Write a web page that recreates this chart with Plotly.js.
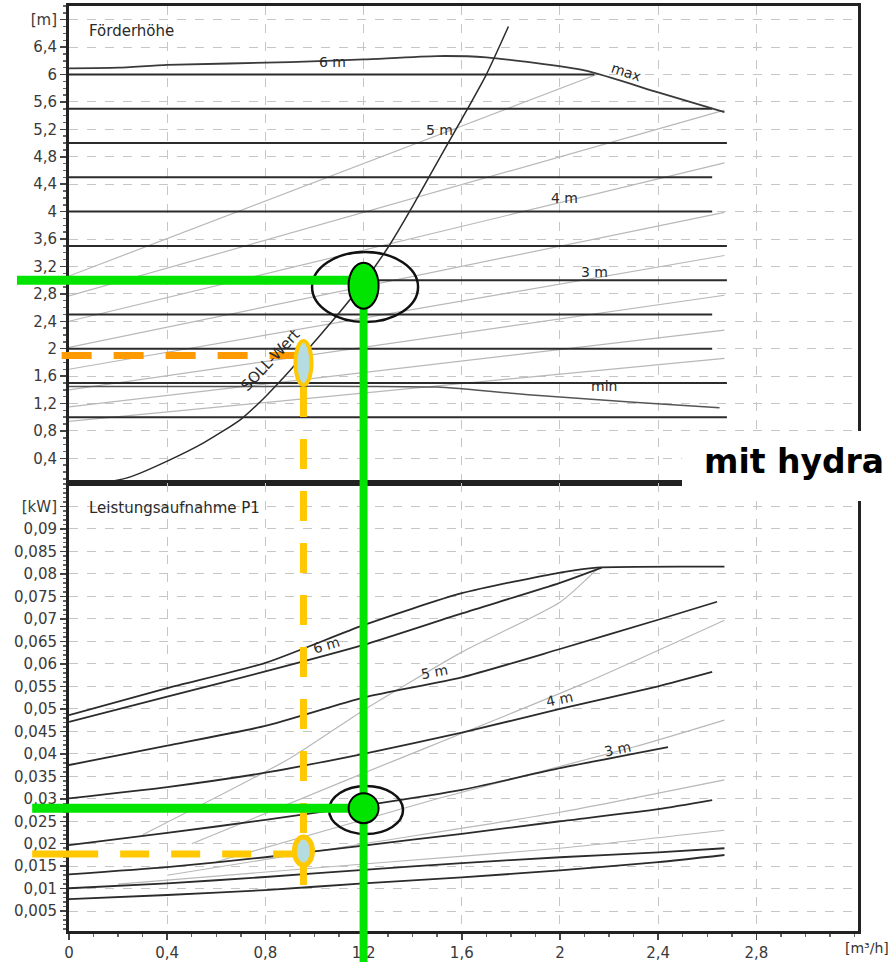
<!DOCTYPE html>
<html><head><meta charset="utf-8">
<script src="https://cdn.plot.ly/plotly-3.0.1.min.js"></script>
<style>html,body{margin:0;padding:0;background:#fff;}</style>
</head><body>
<div id="chart" style="width:896px;height:962px;"></div>
<script>
// ---------------- axis ticks ----------------
const xTickVals = [0, 0.4, 0.8, 1.2, 1.6, 2, 2.4, 2.8];
const xTickText = ["0", "0,4", "0,8", "1,2", "1,6", "2", "2,4", "2,8"];
const hTickVals = [0.4,0.8,1.2,1.6,2,2.4,2.8,3.2,3.6,4,4.4,4.8,5.2,5.6,6,6.4,6.8];
const hTickText = ["0,4","0,8","1,2","1,6","2","2,4","2,8","3,2","3,6","4","4,4","4,8","5,2","5,6","6","6,4","[m]"];
const pTickVals = [0.005,0.01,0.015,0.02,0.025,0.03,0.035,0.04,0.045,0.05,0.055,0.06,0.065,0.07,0.075,0.08,0.085,0.09,0.095];
const pTickText = ["0,005","0,01","0,015","0,02","0,025","0,03","0,035","0,04","0,045","0,05","0,055","0,06","0,065","0,07","0,075","0,08","0,085","0,09","[kW]"];

// ---------------- Förderhöhe (head) ----------------
// constant-pressure lines (level, end flow)
const hLevels   = [6, 5.5, 5, 4.5, 4, 3.5, 3, 2.5, 2, 1.5, 1];
const hLevelEnd = [2.14, 2.62, 2.68, 2.62, 2.62, 2.68, 2.68, 2.62, 2.62, 2.68, 2.68];
// proportional-pressure lines (grey)
const gStartH = [3.06, 2.77, 2.40, 2.02, 1.70, 1.40, 1.15, 0.94];
const gEndQ   = [2.15, 2.67, 2.67, 2.67, 2.67, 2.67, 2.67, 2.67];
const gEndH   = [6.00, 5.48, 4.71, 3.99, 3.36, 2.78, 2.27, 1.86];
// max curve
const maxQ = [0, 0.2, 0.4, 0.9, 1.2, 1.5, 1.7, 2.1, 2.4, 2.67];
const maxH = [6.09, 6.10, 6.14, 6.18, 6.22, 6.27, 6.25, 6.06, 5.74, 5.45];
// min curve
const minQ = [0, 0.4, 0.8, 1.2, 1.5, 1.9, 2.3, 2.65];
const minH = [1.45, 1.45, 1.45, 1.45, 1.44, 1.32, 1.22, 1.14];
// SOLL-Wert system curve
const sollQ = [0.13, 0.25, 0.4, 0.55, 0.7, 0.8, 0.9, 1.0, 1.1, 1.2, 1.3, 1.4, 1.5, 1.6, 1.7, 1.79];
const sollH = [0.03, 0.13, 0.36, 0.63, 0.97, 1.3, 1.68, 2.1, 2.52, 2.97, 3.48, 4.08, 4.72, 5.35, 6.0, 6.7];

// ---------------- Leistungsaufnahme (power) ----------------
const pMaxAQ = [0, 0.4, 0.8, 1.2, 1.6, 2.0, 2.15, 2.67];
const pMaxAP = [0.0486, 0.0546, 0.0602, 0.0686, 0.0757, 0.0803, 0.0814, 0.0816];
const pMaxBQ = [0, 0.4, 0.8, 1.2, 1.6, 2.0, 2.17];
const pMaxBP = [0.0471, 0.0527, 0.0583, 0.0642, 0.0712, 0.0780, 0.0814];
const p5Q = [0, 0.4, 0.8, 1.2, 1.6, 2.0, 2.4, 2.64];
const p5P = [0.0375, 0.0418, 0.0462, 0.0525, 0.0570, 0.0633, 0.0698, 0.0738];
const p4Q = [0, 0.4, 0.8, 1.2, 1.6, 2.0, 2.4, 2.62];
const p4P = [0.0301, 0.0326, 0.0358, 0.0400, 0.0447, 0.0500, 0.0550, 0.0582];
const p3Q = [0, 0.4, 0.8, 1.2, 1.6, 2.0, 2.44];
const p3P = [0.0197, 0.0224, 0.0253, 0.0285, 0.0320, 0.0368, 0.0415];
const p25Q = [0, 0.4, 0.8, 1.2, 1.6, 2.0, 2.4, 2.62];
const p25P = [0.0132, 0.0148, 0.0170, 0.0196, 0.0222, 0.0250, 0.0277, 0.0297];
const p2Q = [0, 0.4, 0.8, 1.2, 1.6, 2.0, 2.4, 2.67];
const p2P = [0.0101, 0.0112, 0.0126, 0.0142, 0.0157, 0.0170, 0.0181, 0.0190];
const p1Q = [0, 0.4, 0.8, 1.2, 1.6, 2.0, 2.4, 2.67];
const p1P = [0.0077, 0.0086, 0.0097, 0.0112, 0.0125, 0.0141, 0.0159, 0.0175];
// grey proportional-pressure power lines
const gp1Q = [0.3, 0.9, 1.2, 1.6, 2.0, 2.15];
const gp1P = [0.022, 0.039, 0.0497, 0.0626, 0.0737, 0.081];
const gp2Q = [0.5, 1.2, 2.1, 2.67];
const gp2P = [0.020, 0.0357, 0.0557, 0.0697];
const gp3Q = [0.6, 1.5, 2.3, 2.67];
const gp3P = [0.016, 0.030, 0.0415, 0.0475];
const gp4Q = [0.4, 1.2, 2.0, 2.67];
const gp4P = [0.013, 0.020, 0.027, 0.0342];
const gp5Q = [0.2, 1.2, 2.0, 2.67];
const gp5P = [0.011, 0.0155, 0.019, 0.023];

// ---------------- marked operating points ----------------
const opQ = 1.2, opH = 3.0, opHdot = 2.92, opP = 0.0279;      // green
const refQ = 0.955, refH = 1.9, refHdot = 1.79, refP = 0.0177, refPdot = 0.0184; // orange/yellow

// ---------------- axis geometry ----------------
const X0 = 0, X1 = 3.214, H0 = 0.04, H1 = 7.0, P0 = 0.0006, P1 = 0.1002, SPLIT = 0.4843;
const PLOT_W = 789, PLOT_H = 925;
const fx = q => (q - X0) / (X1 - X0);
const fh = h => SPLIT + (h - H0) / (H1 - H0) * (1 - SPLIT);
const fp = p => (p - P0) / (P1 - P0) * SPLIT;
const dx = px => px / PLOT_W, dy = px => px / PLOT_H;

const BLACK = '#2b2b2b', GRAY = '#b8b8b8';
const traces = [];
function add(q, v, top, color, width, shape) {
  traces.push({type: 'scatter', mode: 'lines', x: q, y: v,
    xaxis: top ? 'x' : 'x2', yaxis: top ? 'y' : 'y2',
    line: {color: color, width: width, shape: shape || 'linear', smoothing: 0.6},
    hoverinfo: 'skip', showlegend: false});
}
// grey lines first
gStartH.forEach((h, i) => add([0, gEndQ[i]], [h, gEndH[i]], true, GRAY, 1.2));
[[gp1Q,gp1P],[gp2Q,gp2P],[gp3Q,gp3P],[gp4Q,gp4P],[gp5Q,gp5P]].forEach(a => add(a[0], a[1], false, GRAY, 1.2, 'spline'));
// black
hLevels.forEach((h, i) => add([0, hLevelEnd[i]], [h, h], true, BLACK, 2));
add(maxQ, maxH, true, '#3a3a3a', 1.8, 'spline');
add(minQ, minH, true, '#555', 1.5, 'spline');
add(sollQ, sollH, true, BLACK, 1.5, 'spline');
[[pMaxAQ,pMaxAP],[pMaxBQ,pMaxBP],[p5Q,p5P],[p4Q,p4P],[p3Q,p3P],[p25Q,p25P],[p2Q,p2P],[p1Q,p1P]]
  .forEach(a => add(a[0], a[1], false, BLACK, 1.8, 'spline'));

const FONT = 'DejaVu Sans';
const gridStyle = {showgrid: true, gridcolor: '#c6c6c6', griddash: 'dash', gridwidth: 1, zeroline: false};

function lbl(text, x, y, top, angle, size, anchor) {
  return {text: text, x: x, y: y, xref: top ? 'x' : 'x2', yref: top ? 'y' : 'y2',
    showarrow: false, textangle: angle || 0, xanchor: anchor || 'center', yanchor: 'middle',
    font: {family: FONT, size: size || 14, color: '#2a2a2a'}};
}
const annotations = [
  lbl('Förderhöhe', 0.073, 6.64, true, 0, 15, 'left'),
  lbl('Leistungsaufnahme P1', 0.073, 0.0947, false, 0, 15, 'left'),
  lbl('6 m', 1.075, 6.19, true, 0),
  lbl('5 m', 1.511, 5.19, true, 0),
  lbl('4 m', 2.02, 4.20, true, 0),
  lbl('3 m', 2.14, 3.12, true, 0),
  lbl('max', 2.27, 6.04, true, 18),
  lbl('min', 2.18, 1.46, true, 0),
  lbl('SOLL-Wert', 0.82, 1.84, true, -47, 15),
  lbl('6 m', 1.05, 0.0642, false, -17),
  lbl('5 m', 1.487, 0.0582, false, -10),
  lbl('4 m', 2.0, 0.0522, false, -12),
  lbl('3 m', 2.236, 0.0411, false, -12),
  {text: '[m³/h]', x: fx(3.25), y: -0.0184, xref: 'paper', yref: 'paper', showarrow: false,
   xanchor: 'center', yanchor: 'middle', font: {family: FONT, size: 14, color: '#333'}},
  {text: '<b>mit hydra</b>', x: dx(702 - 69), y: dy(931 - 462), xref: 'paper', yref: 'paper',
   showarrow: false, xanchor: 'left', yanchor: 'middle', font: {family: FONT, size: 33, color: '#000'}}
];

const GREEN = '#00e400', ORANGE = '#ff9900', YELLOW = '#ffc800', LBLUE = '#b5dce0';
const DASH = '30px,22px';
const shapes = [
  // white box behind caption
  {type: 'rect', xref: 'paper', yref: 'paper', x0: dx(682 - 69), x1: dx(900 - 69), y0: dy(931 - 501), y1: dy(931 - 431),
   fillcolor: '#fff', line: {width: 0}, layer: 'above'},
  // black hand-drawn ellipses
  {type: 'circle', xref: 'paper', yref: 'paper', x0: fx(1.206) - dx(53), x1: fx(1.206) + dx(53), y0: fh(2.9) - dy(35), y1: fh(2.9) + dy(35),
   line: {color: '#111', width: 2.5}, layer: 'above'},
  {type: 'circle', xref: 'paper', yref: 'paper', x0: fx(1.21) - dx(37), x1: fx(1.21) + dx(37), y0: fp(0.0275) - dy(24), y1: fp(0.0275) + dy(24),
   line: {color: '#111', width: 2.5}, layer: 'above'},
  // orange dashed (head) and yellow dashed (power, vertical)
  {type: 'line', xref: 'paper', yref: 'paper', x0: fx(-0.03), x1: fx(refQ), y0: fh(refH), y1: fh(refH),
   line: {color: ORANGE, width: 7, dash: DASH}, layer: 'above'},
  {type: 'line', xref: 'paper', yref: 'paper', x0: fx(-0.15), x1: fx(0.99), y0: fp(refP), y1: fp(refP),
   line: {color: YELLOW, width: 7, dash: '66px,22px,29px,22px,29px,22px,29px,22px,29px,22px'}, layer: 'above'},
  {type: 'line', xref: 'paper', yref: 'paper', x0: fx(refQ), x1: fx(refQ), y0: fh(1.44), y1: fp(0.0075),
   line: {color: YELLOW, width: 7, dash: DASH}, layer: 'above'},
  // light-blue markers with yellow rim
  {type: 'circle', xref: 'paper', yref: 'paper', x0: fx(refQ) - dx(8), x1: fx(refQ) + dx(8), y0: fh(refHdot) - dy(22), y1: fh(refHdot) + dy(22),
   fillcolor: LBLUE, line: {color: YELLOW, width: 4}, layer: 'above'},
  {type: 'circle', xref: 'paper', yref: 'paper', x0: fx(refQ) - dx(9), x1: fx(refQ) + dx(9), y0: fp(refPdot) - dy(14), y1: fp(refPdot) + dy(14),
   fillcolor: LBLUE, line: {color: YELLOW, width: 5}, layer: 'above'},
  // green lines
  {type: 'line', xref: 'paper', yref: 'paper', x0: fx(-0.212), x1: fx(opQ), y0: fh(opH), y1: fh(opH),
   line: {color: GREEN, width: 9}, layer: 'above'},
  {type: 'line', xref: 'paper', yref: 'paper', x0: fx(-0.15), x1: fx(opQ), y0: fp(opP), y1: fp(opP),
   line: {color: GREEN, width: 9}, layer: 'above'},
  {type: 'line', xref: 'paper', yref: 'paper', x0: fx(opQ), x1: fx(opQ), y0: fh(opHdot), y1: -0.04,
   line: {color: GREEN, width: 8}, layer: 'above'},
  // green dots
  {type: 'circle', xref: 'paper', yref: 'paper', x0: fx(opQ) - dx(15), x1: fx(opQ) + dx(15), y0: fh(opHdot) - dy(23), y1: fh(opHdot) + dy(23),
   fillcolor: GREEN, line: {color: '#000', width: 2}, layer: 'above'},
  {type: 'circle', xref: 'paper', yref: 'paper', x0: fx(opQ) - dx(15), x1: fx(opQ) + dx(15), y0: fp(opP) - dy(15), y1: fp(opP) + dy(15),
   fillcolor: GREEN, line: {color: '#000', width: 2}, layer: 'above'}
];

const layout = {
  width: 896, height: 962,
  margin: {l: 69, r: 38, t: 6, b: 31, pad: 0},
  paper_bgcolor: '#fff', plot_bgcolor: '#fff',
  font: {family: FONT, size: 15, color: '#3a3a3a'},
  showlegend: false,
  xaxis: Object.assign({domain: [0, 1], range: [X0, X1], anchor: 'y', tickmode: 'array', tickvals: xTickVals,
    showticklabels: false, ticks: '', showline: true, linecolor: '#222', linewidth: 3, mirror: true}, gridStyle),
  yaxis: Object.assign({domain: [SPLIT, 1], range: [H0, H1], anchor: 'x', tickmode: 'array', tickvals: hTickVals, ticktext: hTickText,
    ticks: 'outside', ticklen: 6, tickcolor: '#444', tickwidth: 1.5,
    minor: {dtick: 0.1, tick0: 0, ticks: 'outside', ticklen: 3, tickcolor: '#666', showgrid: false},
    showline: true, linecolor: '#222', linewidth: 3, mirror: true}, gridStyle),
  xaxis2: Object.assign({domain: [0, 1], range: [X0, X1], anchor: 'y2', matches: 'x', tickmode: 'array', tickvals: xTickVals, ticktext: xTickText,
    ticks: 'outside', ticklen: 6, tickcolor: '#444', tickwidth: 1.5,
    minor: {dtick: 0.1, tick0: 0, ticks: 'outside', ticklen: 3, tickcolor: '#666', showgrid: false},
    showline: true, linecolor: '#222', linewidth: 3, mirror: true}, gridStyle),
  yaxis2: Object.assign({domain: [0, SPLIT], range: [P0, P1], anchor: 'x2', tickmode: 'array', tickvals: pTickVals, ticktext: pTickText,
    ticks: 'outside', ticklen: 6, tickcolor: '#444', tickwidth: 1.5,
    minor: {dtick: 0.001, tick0: 0, ticks: 'outside', ticklen: 3, tickcolor: '#666', showgrid: false},
    showline: true, linecolor: '#222', linewidth: 3, mirror: true}, gridStyle),
  annotations: annotations,
  shapes: shapes
};

Plotly.newPlot('chart', traces, layout, {staticPlot: true, displayModeBar: false});
</script>
</body></html>
